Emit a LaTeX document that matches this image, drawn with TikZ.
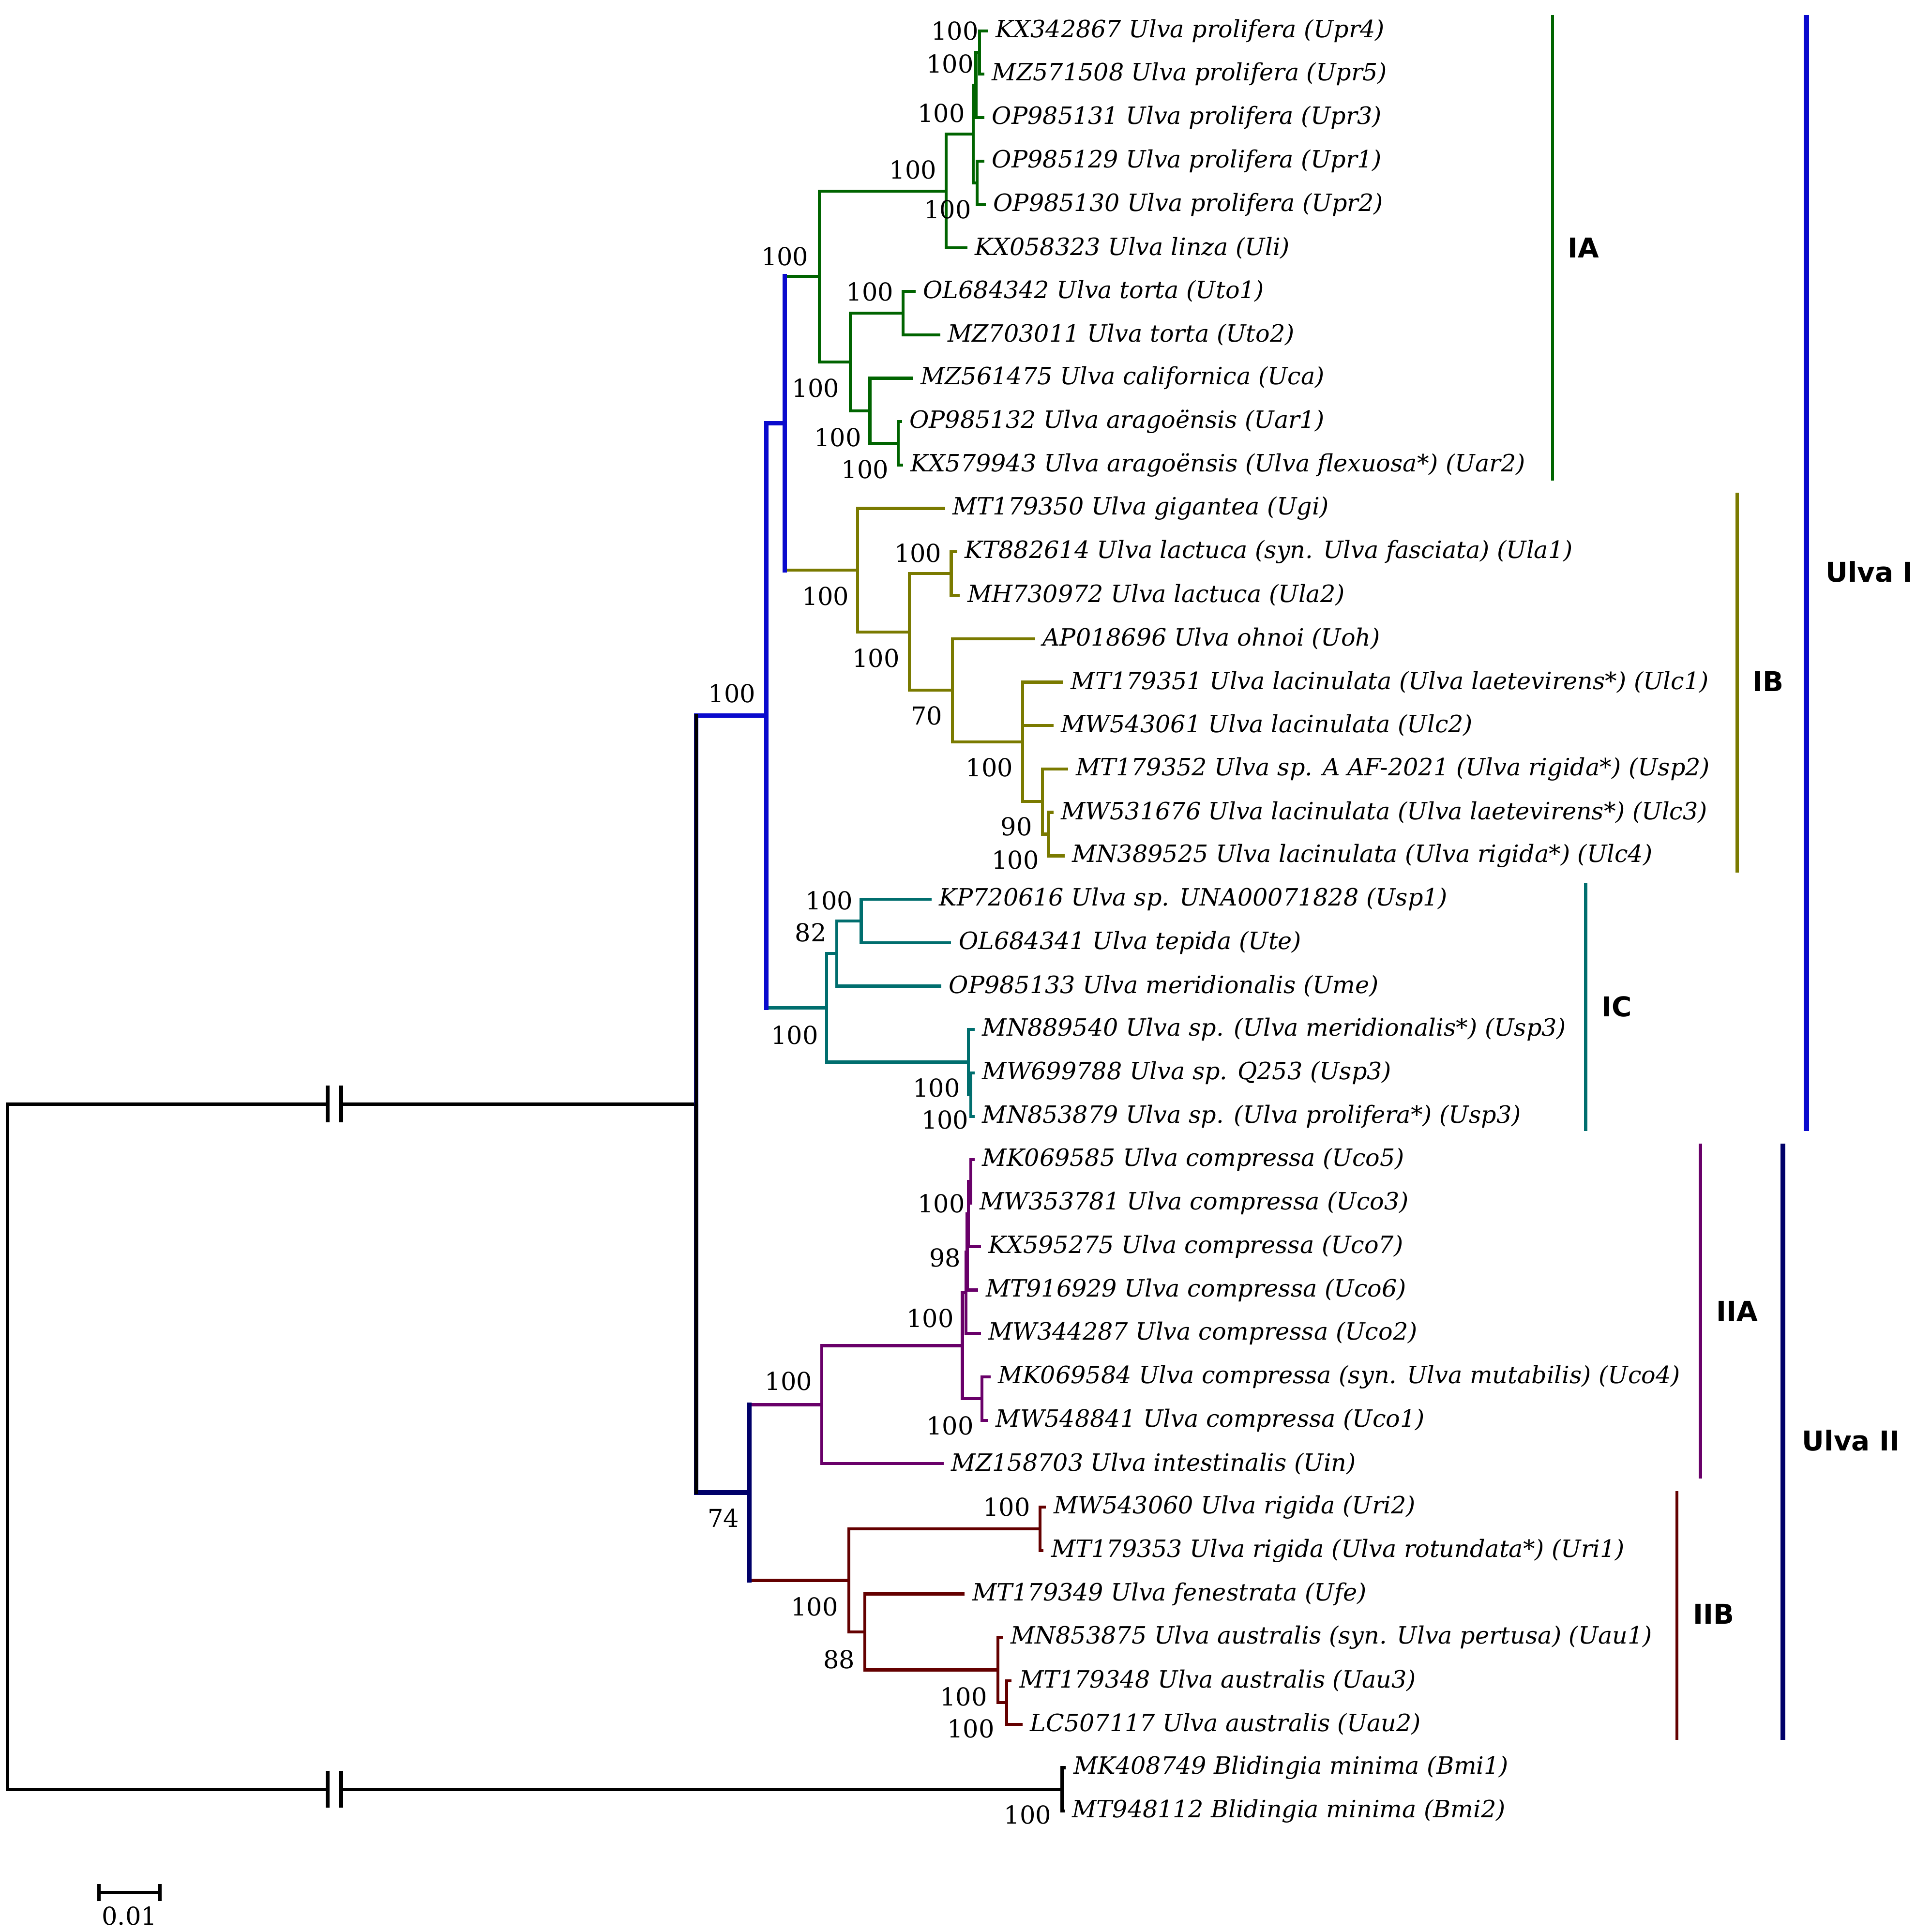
\documentclass[tikz,border=0pt]{standalone}
\usepackage{fontspec}
\setmainfont{DejaVu Serif}
\newfontfamily\cladefont{DejaVu Sans}
\usetikzlibrary{arrows.meta}
\definecolor{ia}{RGB}{0,100,0}
\definecolor{ib}{RGB}{122,122,0}
\definecolor{ic}{RGB}{0,110,110}
\definecolor{iia}{RGB}{105,0,105}
\definecolor{iib}{RGB}{100,0,0}
\definecolor{ulvaone}{RGB}{10,10,205}
\definecolor{ulvatwo}{RGB}{0,0,105}
\begin{document}
\begin{tikzpicture}[x=0.1mm,y=-0.1mm,
  br/.style={line width=0.7pt},
  thickbr/.style={line width=1.05pt},
  overlay br/.style={line width=1.05pt,line cap=rect},
  leaf/.style={anchor=west,inner xsep=0.55mm,inner ysep=0pt,font=\itshape\fontsize{5.5}{6.5}\selectfont},
  boot/.style={inner sep=0pt,font=\fontsize{5.7}{6}\selectfont},
  clade/.style={inner sep=0pt,font=\cladefont\bfseries\fontsize{6.3}{7}\selectfont},
  bar/.style={line width=0.75pt},
  bigbar/.style={line width=1.2pt}]
\useasboundingbox (0,0) rectangle (1555,1568);

% internal nodes
\coordinate (nR) at (6,1174.1);
\coordinate (brA1) at (266,896);
\coordinate (brA2) at (277,896);
\coordinate (brB1) at (266,1452.2);
\coordinate (brB2) at (277,1452.2);
\coordinate (nG) at (565,896.0);
\coordinate (nB) at (862,1452.2);
\coordinate (nUI) at (622,580.7);
\coordinate (nUII) at (608,1211.3);
\coordinate (nUIa) at (637,343.5);
\coordinate (nIA) at (665,224.3);
\coordinate (nUprUli) at (768,155.0);
\coordinate (nUpr) at (790,108.7);
\coordinate (n453) at (792,69.1);
\coordinate (n45) at (795,42.6);
\coordinate (n12) at (793,148.4);
\coordinate (nLow) at (690,293.7);
\coordinate (nUto) at (733,254.0);
\coordinate (nUcaUar) at (706,333.4);
\coordinate (nUar) at (729,359.8);
\coordinate (nIB) at (696,462.8);
\coordinate (nUla) at (772,465.5);
\coordinate (nLacOhUlc) at (738,512.9);
\coordinate (nOhUlc) at (773,560.2);
\coordinate (nUlc) at (830,602.0);
\coordinate (nUsp2g) at (846,650.5);
\coordinate (nL34) at (851,677.0);
\coordinate (nIC) at (671,818.0);
\coordinate (nUme) at (679,773.9);
\coordinate (nUsp1Ute) at (699,747.4);
\coordinate (nUsp3) at (786,862.0);
\coordinate (nUsp3bc) at (788,888.4);
\coordinate (nIIA) at (667,1140.0);
\coordinate (nUco) at (781,1092.1);
\coordinate (nUcoA) at (784,1049.2);
\coordinate (nU5376) at (785,1016.2);
\coordinate (nU537) at (786,985.3);
\coordinate (nU53) at (788,958.9);
\coordinate (nU41) at (797,1135.1);
\coordinate (nIIB) at (689,1282.6);
\coordinate (nUri) at (844,1240.8);
\coordinate (nUfeUau) at (702,1324.5);
\coordinate (nUau) at (810,1355.3);
\coordinate (nUau32) at (817,1381.8);

% tips
\coordinate (tUpr4) at (802,25.0);
\coordinate (tUpr5) at (799,60.2);
\coordinate (tUpr3) at (799,95.5);
\coordinate (tUpr1) at (799,130.7);
\coordinate (tUpr2) at (800,166.0);
\coordinate (tUli) at (785,201.2);
\coordinate (tUto1) at (743,236.4);
\coordinate (tUto2) at (763,271.7);
\coordinate (tUca) at (741,306.9);
\coordinate (tUar1) at (732,342.2);
\coordinate (tUar2) at (733,377.4);
\coordinate (tUgi) at (767,412.6);
\coordinate (tUla1) at (777,447.9);
\coordinate (tUla2) at (779,483.1);
\coordinate (tUoh) at (840,518.4);
\coordinate (tUlc1) at (863,553.6);
\coordinate (tUlc2) at (855,588.8);
\coordinate (tUsp2) at (867,624.1);
\coordinate (tUlc3) at (855,659.3);
\coordinate (tUlc4) at (864,694.6);
\coordinate (tUsp1) at (756,729.8);
\coordinate (tUte) at (772,765.0);
\coordinate (tUme) at (764,800.3);
\coordinate (tUsp3a) at (791,835.5);
\coordinate (tUsp3b) at (791,870.8);
\coordinate (tUsp3c) at (791,906.0);
\coordinate (tUco5) at (791,941.2);
\coordinate (tUco3) at (789,976.5);
\coordinate (tUco7) at (796,1011.7);
\coordinate (tUco6) at (794,1047.0);
\coordinate (tUco2) at (796,1082.2);
\coordinate (tUco4) at (804,1117.4);
\coordinate (tUco1) at (802,1152.7);
\coordinate (tUin) at (766,1187.9);
\coordinate (tUri2) at (849,1223.2);
\coordinate (tUri1) at (847,1258.4);
\coordinate (tUfe) at (783,1293.6);
\coordinate (tUau1) at (814,1328.9);
\coordinate (tUau3) at (821,1364.1);
\coordinate (tUau2) at (830,1399.4);
\coordinate (tBmi1) at (865,1434.6);
\coordinate (tBmi2) at (864,1469.8);

%-------------------------------------
% root and outgroup
\draw[br,line width=0.75pt] (nR) |- (brA1) (brA2) -- (nG);
\draw[br,line width=0.75pt] (nR) |- (brB1) (brB2) -- (nB);
\draw[br,line width=0.75pt] (nB) |- (tBmi1) (nB) |- (tBmi2);
\draw[line width=0.9pt] (266,881) -- (266,911);
\draw[line width=0.9pt] (277,881) -- (277,911);
\draw[line width=0.9pt] (266,1437) -- (266,1467);
\draw[line width=0.9pt] (277,1437) -- (277,1467);

%-------------------------------------
% Ulva I
\draw[thickbr,ulvaone] (nG) |- (nUI) (nUI) |- (nUIa);
\draw[br,ia] (nUIa) |- (nIA);
\draw[br,ib] (nUIa) |- (nIB);
\draw[br,ic] (nUI) |- (nIC);
\draw[overlay br,ulvaone] (nUI |- nUIa) -- (nUI |- nIC);
\draw[overlay br,ulvaone] (nUIa |- nIA) -- (nUIa |- nIB);

% IA
\draw[br,ia] (nIA) |- (nUprUli) (nIA) |- (nLow)
  (nUprUli) |- (nUpr) (nUprUli) |- (tUli)
  (nUpr) |- (n453) (nUpr) |- (n12)
  (n453) |- (n45) (n453) |- (tUpr3)
  (n45) |- (tUpr4) (n45) |- (tUpr5)
  (n12) |- (tUpr1) (n12) |- (tUpr2)
  (nLow) |- (nUto) (nLow) |- (nUcaUar)
  (nUto) |- (tUto1) (nUto) |- (tUto2)
  (nUcaUar) |- (tUca) (nUcaUar) |- (nUar)
  (nUar) |- (tUar1) (nUar) |- (tUar2);

% IB
\draw[br,ib] (nIB) |- (tUgi) (nIB) |- (nLacOhUlc)
  (nLacOhUlc) |- (nUla) (nLacOhUlc) |- (nOhUlc)
  (nUla) |- (tUla1) (nUla) |- (tUla2)
  (nOhUlc) |- (tUoh) (nOhUlc) |- (nUlc)
  (nUlc) |- (tUlc1) (nUlc) |- (tUlc2) (nUlc) |- (nUsp2g)
  (nUsp2g) |- (tUsp2) (nUsp2g) |- (nL34)
  (nL34) |- (tUlc3) (nL34) |- (tUlc4);

% IC
\draw[br,ic] (nIC) |- (nUme) (nIC) |- (nUsp3)
  (nUme) |- (nUsp1Ute) (nUme) |- (tUme)
  (nUsp1Ute) |- (tUsp1) (nUsp1Ute) |- (tUte)
  (nUsp3) |- (tUsp3a) (nUsp3) |- (nUsp3bc)
  (nUsp3bc) |- (tUsp3b) (nUsp3bc) |- (tUsp3c);

%-------------------------------------
% Ulva II
\draw[thickbr,ulvatwo] (nG) |- (nUII);
\draw[br,iia] (nUII) |- (nIIA);
\draw[br,iib] (nUII) |- (nIIB);
\draw[overlay br,ulvatwo] (nUII |- nIIA) -- (nUII |- nIIB);
\draw[overlay br,line width=0.75pt] (nG |- nUI) -- (nG |- nUII);

% IIA
\draw[br,iia] (nIIA) |- (nUco) (nIIA) |- (tUin)
  (nUco) |- (nUcoA) (nUco) |- (nU41)
  (nUcoA) |- (nU5376) (nUcoA) |- (tUco2)
  (nU5376) |- (nU537) (nU5376) |- (tUco6)
  (nU537) |- (nU53) (nU537) |- (tUco7)
  (nU53) |- (tUco5) (nU53) |- (tUco3)
  (nU41) |- (tUco4) (nU41) |- (tUco1);

% IIB
\draw[br,iib] (nIIB) |- (nUri) (nIIB) |- (nUfeUau)
  (nUri) |- (tUri2) (nUri) |- (tUri1)
  (nUfeUau) |- (tUfe) (nUfeUau) |- (nUau)
  (nUau) |- (tUau1) (nUau) |- (nUau32)
  (nUau32) |- (tUau3) (nUau32) |- (tUau2);

%-------------------------------------
% taxa
\node[leaf] (Upr4) at (tUpr4) {KX342867 Ulva prolifera (Upr4)};
\node[leaf] (Upr5) at (tUpr5) {MZ571508 Ulva prolifera (Upr5)};
\node[leaf] (Upr3) at (tUpr3) {OP985131 Ulva prolifera (Upr3)};
\node[leaf] (Upr1) at (tUpr1) {OP985129 Ulva prolifera (Upr1)};
\node[leaf] (Upr2) at (tUpr2) {OP985130 Ulva prolifera (Upr2)};
\node[leaf] (Uli) at (tUli) {KX058323 Ulva linza (Uli)};
\node[leaf] (Uto1) at (tUto1) {OL684342 Ulva torta (Uto1)};
\node[leaf] (Uto2) at (tUto2) {MZ703011 Ulva torta (Uto2)};
\node[leaf] (Uca) at (tUca) {MZ561475 Ulva californica (Uca)};
\node[leaf] (Uar1) at (tUar1) {OP985132 Ulva aragoënsis (Uar1)};
\node[leaf] (Uar2) at (tUar2) {KX579943 Ulva aragoënsis (Ulva flexuosa*) (Uar2)};
\node[leaf] (Ugi) at (tUgi) {MT179350 Ulva gigantea (Ugi)};
\node[leaf] (Ula1) at (tUla1) {KT882614 Ulva lactuca (syn. Ulva fasciata) (Ula1)};
\node[leaf] (Ula2) at (tUla2) {MH730972 Ulva lactuca (Ula2)};
\node[leaf] (Uoh) at (tUoh) {AP018696 Ulva ohnoi (Uoh)};
\node[leaf] (Ulc1) at (tUlc1) {MT179351 Ulva lacinulata (Ulva laetevirens*) (Ulc1)};
\node[leaf] (Ulc2) at (tUlc2) {MW543061 Ulva lacinulata (Ulc2)};
\node[leaf] (Usp2) at (tUsp2) {MT179352 Ulva sp. A AF-2021 (Ulva rigida*) (Usp2)};
\node[leaf] (Ulc3) at (tUlc3) {MW531676 Ulva lacinulata (Ulva laetevirens*) (Ulc3)};
\node[leaf] (Ulc4) at (tUlc4) {MN389525 Ulva lacinulata (Ulva rigida*) (Ulc4)};
\node[leaf] (Usp1) at (tUsp1) {KP720616 Ulva sp. UNA00071828 (Usp1)};
\node[leaf] (Ute) at (tUte) {OL684341 Ulva tepida (Ute)};
\node[leaf] (Ume) at (tUme) {OP985133 Ulva meridionalis (Ume)};
\node[leaf] (Usp3a) at (tUsp3a) {MN889540 Ulva sp. (Ulva meridionalis*) (Usp3)};
\node[leaf] (Usp3b) at (tUsp3b) {MW699788 Ulva sp. Q253 (Usp3)};
\node[leaf] (Usp3c) at (tUsp3c) {MN853879 Ulva sp. (Ulva prolifera*) (Usp3)};
\node[leaf] (Uco5) at (tUco5) {MK069585 Ulva compressa (Uco5)};
\node[leaf] (Uco3) at (tUco3) {MW353781 Ulva compressa (Uco3)};
\node[leaf] (Uco7) at (tUco7) {KX595275 Ulva compressa (Uco7)};
\node[leaf] (Uco6) at (tUco6) {MT916929 Ulva compressa (Uco6)};
\node[leaf] (Uco2) at (tUco2) {MW344287 Ulva compressa (Uco2)};
\node[leaf] (Uco4) at (tUco4) {MK069584 Ulva compressa (syn. Ulva mutabilis) (Uco4)};
\node[leaf] (Uco1) at (tUco1) {MW548841 Ulva compressa (Uco1)};
\node[leaf] (Uin) at (tUin) {MZ158703 Ulva intestinalis (Uin)};
\node[leaf] (Uri2) at (tUri2) {MW543060 Ulva rigida (Uri2)};
\node[leaf] (Uri1) at (tUri1) {MT179353 Ulva rigida (Ulva rotundata*) (Uri1)};
\node[leaf] (Ufe) at (tUfe) {MT179349 Ulva fenestrata (Ufe)};
\node[leaf] (Uau1) at (tUau1) {MN853875 Ulva australis (syn. Ulva pertusa) (Uau1)};
\node[leaf] (Uau3) at (tUau3) {MT179348 Ulva australis (Uau3)};
\node[leaf] (Uau2) at (tUau2) {LC507117 Ulva australis (Uau2)};
\node[leaf] (Bmi1) at (tBmi1) {MK408749 Blidingia minima (Bmi1)};
\node[leaf] (Bmi2) at (tBmi2) {MT948112 Blidingia minima (Bmi2)};

%-------------------------------------
% bootstrap values
\node[boot] (bs1) at (775,25) {100};
\node[boot] (bs2) at (771,52) {100};
\node[boot] (bs3) at (764,92) {100};
\node[boot] (bs4) at (741,138) {100};
\node[boot] (bs5) at (769,170) {100};
\node[boot] (bs6) at (637,208) {100};
\node[boot] (bs7) at (706,237) {100};
\node[boot] (bs8) at (662,315) {100};
\node[boot] (bs9) at (680,355) {100};
\node[boot] (bs10) at (702,381) {100};
\node[boot] (bs11) at (745,449) {100};
\node[boot] (bs12) at (670,484) {100};
\node[boot] (bs13) at (711,534) {100};
\node[boot] (bs14) at (752,581) {70};
\node[boot] (bs15) at (803,623) {100};
\node[boot] (bs16) at (825,671) {90};
\node[boot] (bs17) at (824,698) {100};
\node[boot] (bs18) at (594,563) {100};
\node[boot] (bs19) at (673,731) {100};
\node[boot] (bs20) at (658,757) {82};
\node[boot] (bs21) at (645,840) {100};
\node[boot] (bs22) at (760,883) {100};
\node[boot] (bs23) at (767,909) {100};
\node[boot] (bs24) at (764,977) {100};
\node[boot] (bs25) at (767,1021) {98};
\node[boot] (bs26) at (755,1070) {100};
\node[boot] (bs27) at (640,1121) {100};
\node[boot] (bs28) at (771,1157) {100};
\node[boot] (bs29) at (587,1232) {74};
\node[boot] (bs30) at (817,1223) {100};
\node[boot] (bs31) at (661,1304) {100};
\node[boot] (bs32) at (681,1347) {88};
\node[boot] (bs33) at (782,1377) {100};
\node[boot] (bs34) at (788,1403) {100};
\node[boot] (bs35) at (834,1473) {100};

%-------------------------------------
% clade bars
\draw[bar,ia] (1260,12) -- (1260,390);
\draw[bar,ib] (1410,400) -- (1410,708);
\draw[bar,ic] (1287,717) -- (1287,918);
\draw[bar,iia] (1380,928) -- (1380,1200);
\draw[bar,iib] (1361,1210) -- (1361,1412);
\draw[bigbar,ulvaone] (1466,12) -- (1466,918);
\draw[bigbar,ulvatwo] (1447,928) -- (1447,1412);
\node[clade] (IA) at (1285,201) {IA};
\node[clade] (IB) at (1435,553) {IB};
\node[clade] (IC) at (1312,817) {IC};
\node[clade] (IIA) at (1410,1064) {IIA};
\node[clade] (IIB) at (1391,1310) {IIB};
\node[clade,anchor=west] (UlvaI) at (1481,464) {Ulva I};
\node[clade,anchor=west] (UlvaII) at (1462,1169) {Ulva II};

% scale
\draw[line width=0.75pt,{Bar[width=4pt]}-{Bar[width=4pt]}] (79,1536) -- (131,1536);
\node[boot] (scale) at (105,1555) {0.01};
\end{tikzpicture}
\end{document}
